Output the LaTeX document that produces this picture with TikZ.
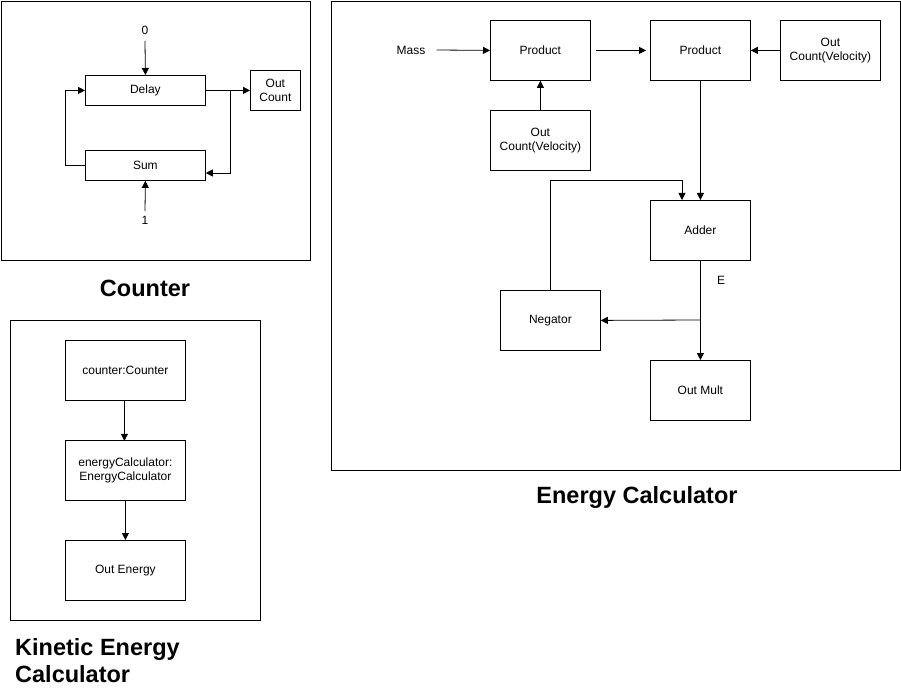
\documentclass[tikz,border=0pt]{standalone}
\usepackage{fontspec}
\setmainfont{Liberation Sans}
\usetikzlibrary{arrows.meta}
\begin{document}
\begin{tikzpicture}[x=1pt,y=-1pt,
  every node/.style={font=\fontsize{12}{13.5}\selectfont, inner sep=0pt},
  box/.style={draw, line width=0.8pt, align=center, anchor=north west},
  frame/.style={draw, line width=0.8pt},
  title/.style={font=\fontsize{23.5}{27}\selectfont\bfseries},
  arr/.style={-{Triangle[length=7pt,width=7pt]}, line width=0.8pt},
  ln/.style={line width=0.8pt}]
\useasboundingbox (0,0) rectangle (901,692);
\fill[white] (0,0) rectangle (901,692);

% ---------- Counter ----------
\draw[frame] (1,1) rectangle (310,260);
\node[box, minimum width=120pt, minimum height=30pt] (delay) at (85,75) {Delay};
\node[box, minimum width=120pt, minimum height=30pt] (sum) at (85,150) {Sum};
\node[box, minimum width=50pt, minimum height=40pt] (outc) at (250,70) {Out\\Count};
\node (zero) at (145,30) {0};
\node (one) at (145,220) {1};
\coordinate (zs) at (145,41);
\coordinate (os) at (145,211);
\draw[arr] (zs) -- (delay.north);
\draw[arr] (os) -- (sum.south);
\coordinate (br) at (230,90);
\draw[arr] (delay.east) -- (outc.west);
\draw[arr] (br) |- (sum.east |- 0,173);
\draw[arr] (sum.west) -- ++(-20,0) |- (delay.west);
\node[title] (tcounter) at (145,288) {Counter};

% ---------- Energy Calculator ----------
\draw[frame] (331,1) rectangle (900,470);
\node (mass) at (411,50) {Mass};
\node[box, minimum width=100pt, minimum height=60pt] (p1) at (490,20) {Product};
\node[box, minimum width=100pt, minimum height=60pt] (p2) at (650,20) {Product};
\node[box, minimum width=100pt, minimum height=60pt] (ov1) at (780,20) {Out\\Count(Velocity)};
\node[box, minimum width=100pt, minimum height=60pt] (ov2) at (490,110) {Out\\Count(Velocity)};
\node[box, minimum width=100pt, minimum height=60pt] (adder) at (650,200) {Adder};
\node[box, minimum width=100pt, minimum height=60pt] (neg) at (500,290) {Negator};
\node[box, minimum width=100pt, minimum height=60pt] (outm) at (650,360) {Out Mult};
\node (E) at (721,280) {E};
\draw[arr] (mass.east) ++(11,0) -- (p1.west);
\draw[arr, shorten <=5pt, shorten >=4pt] (p1.east) -- (p2.west);
\draw[arr] (ov1.west) -- (p2.east);
\draw[arr] (ov2.north) -- (p1.south);
\draw[arr] (p2.south) -- (adder.north);
\draw[arr] (adder.south) -- (outm.north);
\coordinate (eb) at (700,320);
\draw[arr] (eb) -- (neg.east);
\draw[arr] (neg.north) -- ++(0,-110) -| (adder.north -| 682,0);
\node[title] (tenergy) at (637,497) {Energy Calculator};

% ---------- Kinetic Energy Calculator ----------
\draw[frame] (10,320) rectangle (260,620);
\node[box, minimum width=120pt, minimum height=60pt] (cc) at (65,340) {counter:Counter};
\node[box, minimum width=120pt, minimum height=60pt] (ec) at (65,440) {energyCalculator:\\EnergyCalculator};
\node[box, minimum width=120pt, minimum height=60pt] (oe) at (65,540) {Out Energy};
\draw[arr] (cc.south) ++(-1,0) -- ++(0,40);
\draw[arr] (ec.south) -- (oe.north);
\node[title, anchor=west, align=left] (tkin) at (15,661) {Kinetic Energy\\Calculator};
\end{tikzpicture}
\end{document}
